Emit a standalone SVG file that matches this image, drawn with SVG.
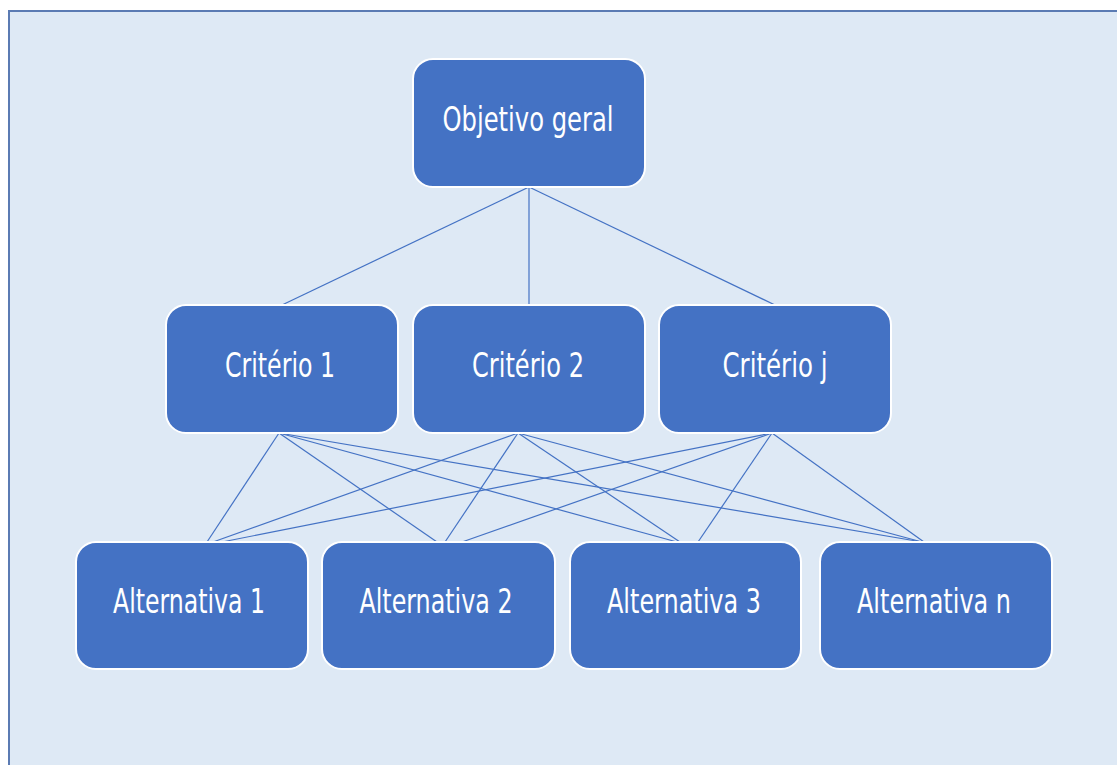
<svg xmlns="http://www.w3.org/2000/svg" width="1117" height="765" viewBox="0 0 1117 765">
<style>
.node rect{fill:#4472c4;stroke:#ffffff;stroke-width:2}
.node text{fill:#ffffff;font-family:"DejaVu Sans Condensed","Liberation Sans Narrow","Liberation Sans",sans-serif;font-size:34px;text-anchor:middle}
.conn line{stroke:#4472c4;stroke-width:1.2}
</style>
<rect x="0" y="0" width="1117" height="765" fill="#ffffff"/>
<rect x="9" y="11" width="1112" height="760" fill="#dee9f5" stroke="#5b7bb3" stroke-width="2"/>
<g class="conn">
<line x1="529" y1="187" x2="282" y2="305"/>
<line x1="529" y1="187" x2="529" y2="305"/>
<line x1="529" y1="187" x2="775" y2="305"/>
<line x1="279" y1="433" x2="207" y2="542"/>
<line x1="279" y1="433" x2="437" y2="542"/>
<line x1="279" y1="433" x2="677" y2="542"/>
<line x1="279" y1="433" x2="922" y2="542"/>
<line x1="518" y1="433" x2="213" y2="542"/>
<line x1="518" y1="433" x2="445" y2="542"/>
<line x1="518" y1="433" x2="680" y2="542"/>
<line x1="518" y1="433" x2="922" y2="542"/>
<line x1="772" y1="433" x2="222" y2="542"/>
<line x1="772" y1="433" x2="462" y2="542"/>
<line x1="772" y1="433" x2="698" y2="542"/>
<line x1="772" y1="433" x2="924" y2="542"/>
</g>
<g id="objetivo" class="node"><rect x="413" y="59" width="232" height="128" rx="20"/><text x="528" y="131" textLength="171" lengthAdjust="spacingAndGlyphs">Objetivo geral</text></g>
<g id="criterio1" class="node"><rect x="166" y="305" width="232" height="128" rx="20"/><text x="280" y="377" textLength="110" lengthAdjust="spacingAndGlyphs">Critério 1</text></g>
<g id="criterio2" class="node"><rect x="413" y="305" width="232" height="128" rx="20"/><text x="528" y="377" textLength="112" lengthAdjust="spacingAndGlyphs">Critério 2</text></g>
<g id="criterioj" class="node"><rect x="659" y="305" width="232" height="128" rx="20"/><text x="775" y="377" textLength="105" lengthAdjust="spacingAndGlyphs">Critério j</text></g>
<g id="alt1" class="node"><rect x="76" y="542" width="232" height="127" rx="20"/><text x="189" y="613" textLength="152" lengthAdjust="spacingAndGlyphs">Alternativa 1</text></g>
<g id="alt2" class="node"><rect x="322" y="542" width="233" height="127" rx="20"/><text x="436" y="613" textLength="153" lengthAdjust="spacingAndGlyphs">Alternativa 2</text></g>
<g id="alt3" class="node"><rect x="570" y="542" width="231" height="127" rx="20"/><text x="684" y="613" textLength="154" lengthAdjust="spacingAndGlyphs">Alternativa 3</text></g>
<g id="altn" class="node"><rect x="820" y="542" width="232" height="127" rx="20"/><text x="934" y="613" textLength="154" lengthAdjust="spacingAndGlyphs">Alternativa n</text></g>
</svg>
